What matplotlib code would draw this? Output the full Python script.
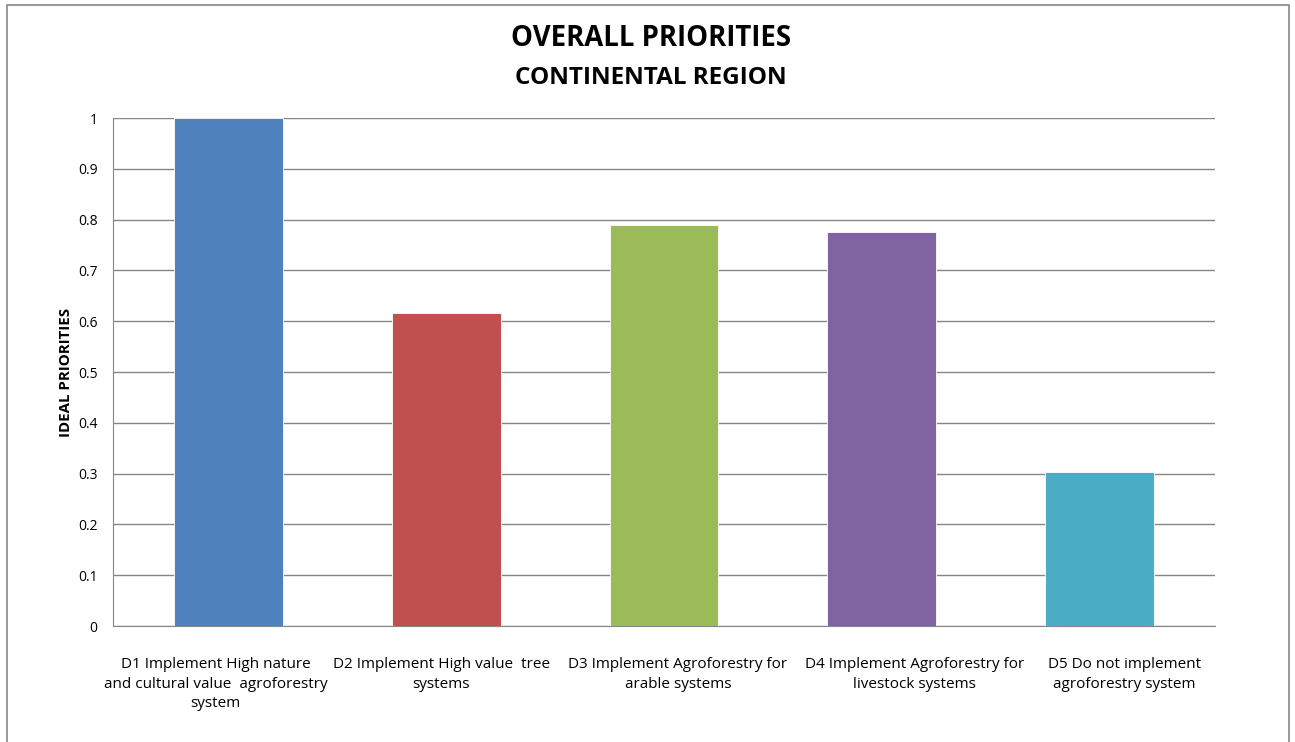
import matplotlib.pyplot as plt
from matplotlib.patches import Rectangle
from matplotlib.transforms import ScaledTranslation

# Ideal priorities per decision alternative
categories = [
    "D1 Implement High nature\nand cultural value  agroforestry\nsystem",
    "D2 Implement High value  tree\nsystems",
    "D3 Implement Agroforestry for\narable systems",
    "D4 Implement Agroforestry for\nlivestock systems",
    "D5 Do not implement\nagroforestry system",
]
values = [1.0, 0.617, 0.789, 0.776, 0.303]
colors = ["#4F81BD", "#C0504D", "#9BBB59", "#8064A2", "#4BACC6"]
yticks = [0, 0.1, 0.2, 0.3, 0.4, 0.5, 0.6, 0.7, 0.8, 0.9, 1]
ytick_labels = ["0", "0.1", "0.2", "0.3", "0.4", "0.5", "0.6", "0.7", "0.8", "0.9", "1"]

plt.rcParams['font.family'] = ['Open Sans', 'DejaVu Sans']

W, H = 1295, 742
fig = plt.figure(figsize=(W / 100, H / 100), dpi=100)

# chart border
fig.patches.append(Rectangle((7 / W, -0.02), (1289 - 7) / W, (742 - 5) / H + 0.02,
                             transform=fig.transFigure, fill=False,
                             edgecolor="#868686", linewidth=1.2))

ax = fig.add_axes([113 / W, 1 - 626 / H, (1215 - 113) / W, (626 - 118) / H])
x = range(len(categories))
ax.bar(x, values, width=0.5, color=colors, edgecolor="white", linewidth=0.6, zorder=3)

ax.set_xlim(-0.53, len(categories) - 0.47)
ax.set_ylim(0, 1)
ax.set_yticks(yticks)
ax.set_yticklabels(ytick_labels, fontsize=10)
ax.set_xticks(list(x))
ax.set_xticklabels(categories, fontsize=11, linespacing=1.45)
ax.tick_params(axis="y", length=0, pad=11)
ax.tick_params(axis="x", length=0, pad=22)

# nudge the wrapped category labels sideways so they don't collide
shifts_px = [-13, -5, 14, 33, 25]
for lbl, dx in zip(ax.get_xticklabels(), shifts_px):
    lbl.set_transform(lbl.get_transform() + ScaledTranslation(dx / 100, 0, fig.dpi_scale_trans))

ax.grid(axis="y", color="#868686", linewidth=1, zorder=0)
for s in ["top", "right"]:
    ax.spines[s].set_visible(False)
ax.spines["left"].set_color("#868686")
ax.spines["bottom"].set_color("#868686")

ax.set_ylabel("IDEAL PRIORITIES", fontsize=10.8, fontweight="bold", labelpad=4)

fig.text(651 / W, 1 - 39 / H, "OVERALL PRIORITIES", ha="center", va="center",
         fontsize=19.8, fontweight="bold")
fig.text(651 / W, 1 - 78 / H, "CONTINENTAL REGION", ha="center", va="center",
         fontsize=17.5, fontweight="bold")

fig.savefig("out.png", dpi=100)
